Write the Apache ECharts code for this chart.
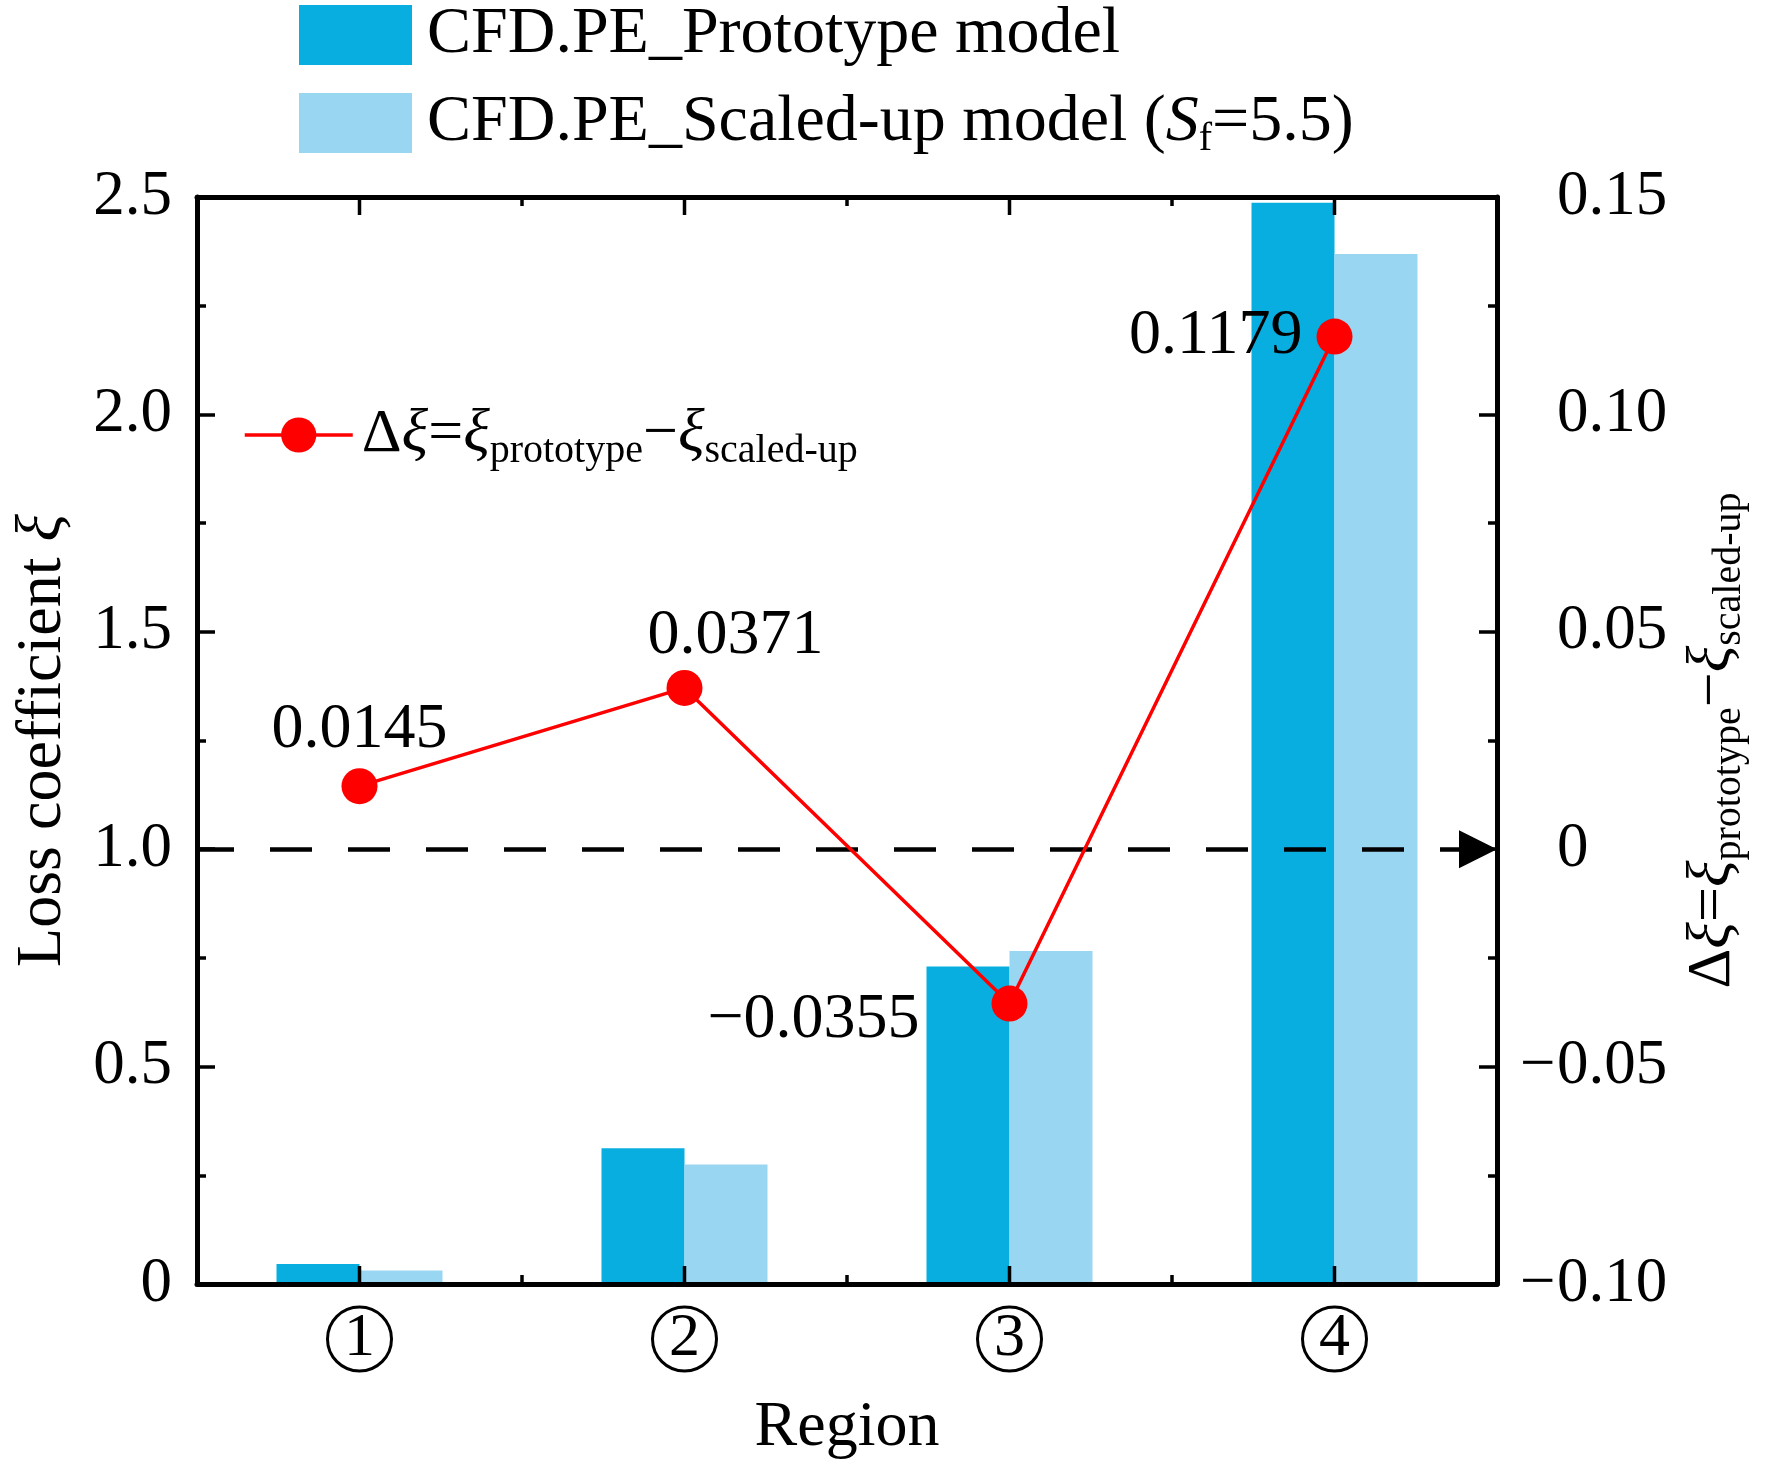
<!DOCTYPE html>
<html>
<head>
<meta charset="utf-8">
<script src="https://cdn.jsdelivr.net/npm/echarts@6/dist/echarts.min.js"></script>
<style>
  html, body { margin: 0; padding: 0; background: #fff; }
  #chart { width: 1772px; height: 1465px; }
</style>
</head>
<body>
<div id="chart"></div>
<script>
// region numbers, shown in circles on the x axis
const categories = ['1', '2', '3', '4'];
// loss coefficient per region
const prototypeVals = [0.046, 0.312, 0.730, 2.487];
const scaledVals = [0.031, 0.275, 0.766, 2.369];
// difference prototype - scaled-up (right axis)
const deltaVals = [0.0145, 0.0371, -0.0355, 0.1179];
const deltaLabels = ['0.0145', '0.0371', '\u22120.0355', '0.1179'];

// axis ranges
const LEFT_MIN = 0, LEFT_MAX = 2.5, LEFT_STEP = 0.5;
const RIGHT_MIN = -0.10, RIGHT_MAX = 0.15, RIGHT_STEP = 0.05;

const NAME_PROTO = 'CFD.PE_Prototype model';
const NAME_SCALED = 'CFD.PE_Scaled-up model (Sf=5.5)';
const NAME_DELTA = 'delta';

const FONT = 'Liberation Serif';
const DARK = '#09aee1';
const LIGHT = '#99d6f1';
const RED = '#ff0000';

// where each value label sits relative to its point
const labelPlace = [
    { position: 'top', distance: 6 },
    { position: 'top', distance: 2, offset: [51, 0] },
    { position: 'left', distance: 72, offset: [0, 17] },
    { position: 'left', distance: 14 }
];

const deltaRich = {
    t: { fontSize: 62, fontFamily: FONT, lineHeight: 72, color: '#000' },
    x: { fontSize: 62, fontFamily: FONT, fontStyle: 'italic', lineHeight: 72, color: '#000' },
    s: { fontSize: 40, fontFamily: FONT, lineHeight: 40, verticalAlign: 'bottom', color: '#000' }
};
const deltaText = '{t|\u0394}{x|\u03be}{t|=}{x|\u03be}{s|prototype}{t|\u2212}{x|\u03be}{s|scaled-up}';

const chart = echarts.init(document.getElementById('chart'));

const black = { color: '#000', width: 5 };
const tickStyle = { color: '#000', width: 3.5 };
const MAJOR_TICK = 18;

// boundary ticks come from the category axes themselves
function xAxisBase(pos) {
    return {
        type: 'category',
        data: categories,
        position: pos,
        z: 10,
        axisLine: { show: true, onZero: false, lineStyle: black },
        axisTick: { show: true, inside: true, length: 9, lineStyle: tickStyle },
        axisLabel: { show: false },
        splitLine: { show: false }
    };
}

const xMain = xAxisBase('bottom');
xMain.axisLabel = {
    show: true,
    margin: 22,
    formatter: v => '{c|' + v + '}',
    rich: {
        c: {
            fontFamily: FONT, fontSize: 62, color: '#000',
            width: 64, height: 64, lineHeight: 66, align: 'center',
            borderColor: '#000', borderWidth: 3, borderRadius: 35
        }
    }
};
xMain.name = 'Region';
xMain.nameLocation = 'middle';
xMain.nameGap = 112;
xMain.nameTextStyle = { fontFamily: FONT, fontSize: 64, color: '#000' };

function signed(v, digits) {
    if (Math.abs(v) < 1e-9) return '{m| }0';
    const s = Math.abs(v).toFixed(digits);
    return (v < 0 ? '{m|\u2212}' : '{m| }') + s;
}

// long ticks at the category centres, as thin rect symbols on the frame edges
function centreTicks(yValue, dir) {
    return {
        name: 'centre ticks',
        type: 'scatter',
        xAxisIndex: 0,
        yAxisIndex: 0,
        silent: true,
        z: 20,
        symbol: 'rect',
        symbolSize: [tickStyle.width, MAJOR_TICK],
        symbolOffset: [0, dir * MAJOR_TICK / 2],
        itemStyle: { color: '#000', opacity: 1 },
        label: { show: false },
        data: categories.map((c, i) => [i, yValue])
    };
}

const option = {
    animation: false,
    backgroundColor: '#fff',
    textStyle: { fontFamily: FONT, color: '#000' },
    grid: { left: 197, right: 275, top: 197, bottom: 168 },
    legend: [
        {
            data: [NAME_PROTO, NAME_SCALED],
            orient: 'vertical',
            left: 299,
            top: 2,
            padding: 0,
            icon: 'rect',
            itemWidth: 113,
            itemHeight: 60,
            itemGap: 22,
            selectedMode: false,
            formatter: name => name === NAME_PROTO
                ? '{t|CFD.PE_Prototype model}'
                : '{t|CFD.PE_Scaled-up model (}{i|S}{s|f}{t|=5.5)}',
            textStyle: {
                padding: [0, 0, 0, 10],
                rich: {
                    t: { fontSize: 66, fontFamily: FONT, lineHeight: 72, color: '#000' },
                    i: { fontSize: 66, fontFamily: FONT, fontStyle: 'italic', lineHeight: 72, color: '#000' },
                    s: { fontSize: 40, fontFamily: FONT, lineHeight: 40, verticalAlign: 'bottom', color: '#000' }
                }
            }
        },
        {
            data: [NAME_DELTA],
            left: 243,
            top: 404,
            padding: 0,
            itemWidth: 108,
            itemHeight: 44,
            selectedMode: false,
            lineStyle: { color: RED, width: 3.5 },
            itemStyle: { color: RED },
            formatter: () => deltaText,
            textStyle: { padding: [0, 0, 0, 4], rich: deltaRich }
        }
    ],
    xAxis: [
        xMain,
        xAxisBase('top')
    ],
    yAxis: [
        {
            type: 'value',
            position: 'left',
            min: LEFT_MIN,
            max: LEFT_MAX,
            interval: LEFT_STEP,
            name: '{t|Loss coefficient }{x|\u03be}',
            nameLocation: 'middle',
            nameGap: 122,
            nameRotate: 90,
            nameTextStyle: { rich: {
                t: { fontSize: 64, fontFamily: FONT, color: '#000' },
                x: { fontSize: 64, fontFamily: FONT, fontStyle: 'italic', color: '#000' }
            } },
            axisLine: { show: true, onZero: false, lineStyle: black },
            axisTick: { show: true, inside: true, length: MAJOR_TICK, lineStyle: tickStyle },
            minorTick: { show: true, splitNumber: 2, length: 9, lineStyle: tickStyle },
            axisLabel: {
                margin: 25,
                fontSize: 63,
                fontFamily: FONT,
                color: '#000',
                formatter: v => (v === 0 ? '0' : v.toFixed(1))
            },
            splitLine: { show: false }
        },
        {
            type: 'value',
            position: 'right',
            min: RIGHT_MIN,
            max: RIGHT_MAX,
            interval: RIGHT_STEP,
            name: deltaText,
            nameLocation: 'middle',
            nameGap: 180,
            nameRotate: 90,
            nameTextStyle: { rich: deltaRich },
            axisLine: { show: true, onZero: false, lineStyle: black },
            axisTick: { show: true, inside: true, length: MAJOR_TICK, lineStyle: tickStyle },
            minorTick: { show: true, splitNumber: 2, length: 9, lineStyle: tickStyle },
            axisLabel: {
                margin: 23,
                color: '#000',
                formatter: v => signed(v, 2),
                rich: {
                    m: { fontSize: 63, fontFamily: FONT, width: 37, align: 'left', color: '#000' }
                },
                fontSize: 63,
                fontFamily: FONT
            },
            splitLine: { show: false }
        }
    ],
    series: [
        {
            name: NAME_PROTO,
            type: 'bar',
            xAxisIndex: 0,
            yAxisIndex: 0,
            data: prototypeVals,
            barWidth: 83,
            barGap: '0%',
            itemStyle: { color: DARK }
        },
        {
            name: NAME_SCALED,
            type: 'bar',
            xAxisIndex: 0,
            yAxisIndex: 0,
            data: scaledVals,
            barWidth: 83,
            barGap: '0%',
            itemStyle: { color: LIGHT }
        },
        centreTicks(LEFT_MIN, -1),
        centreTicks(LEFT_MAX, 1),
        {
            name: NAME_DELTA,
            type: 'line',
            xAxisIndex: 0,
            yAxisIndex: 1,
            z: 11,
            data: deltaVals.map((v, i) => ({ value: v, label: labelPlace[i] })),
            symbol: 'circle',
            symbolSize: 36,
            lineStyle: { color: RED, width: 3.5 },
            itemStyle: { color: RED },
            label: {
                show: true,
                fontSize: 64,
                fontFamily: FONT,
                color: '#000',
                formatter: p => deltaLabels[p.dataIndex]
            },
            markLine: {
                silent: true,
                z: 4,
                symbol: ['none', 'triangle'],
                symbolSize: 38,
                symbolOffset: [0, [0, 19]],
                label: { show: false },
                lineStyle: { color: '#000', width: 4.5, type: [42, 36], dashOffset: 5 },
                emphasis: { disabled: true },
                data: [{ yAxis: 0 }]
            }
        }
    ]
};

chart.setOption(option);
</script>
</body>
</html>
